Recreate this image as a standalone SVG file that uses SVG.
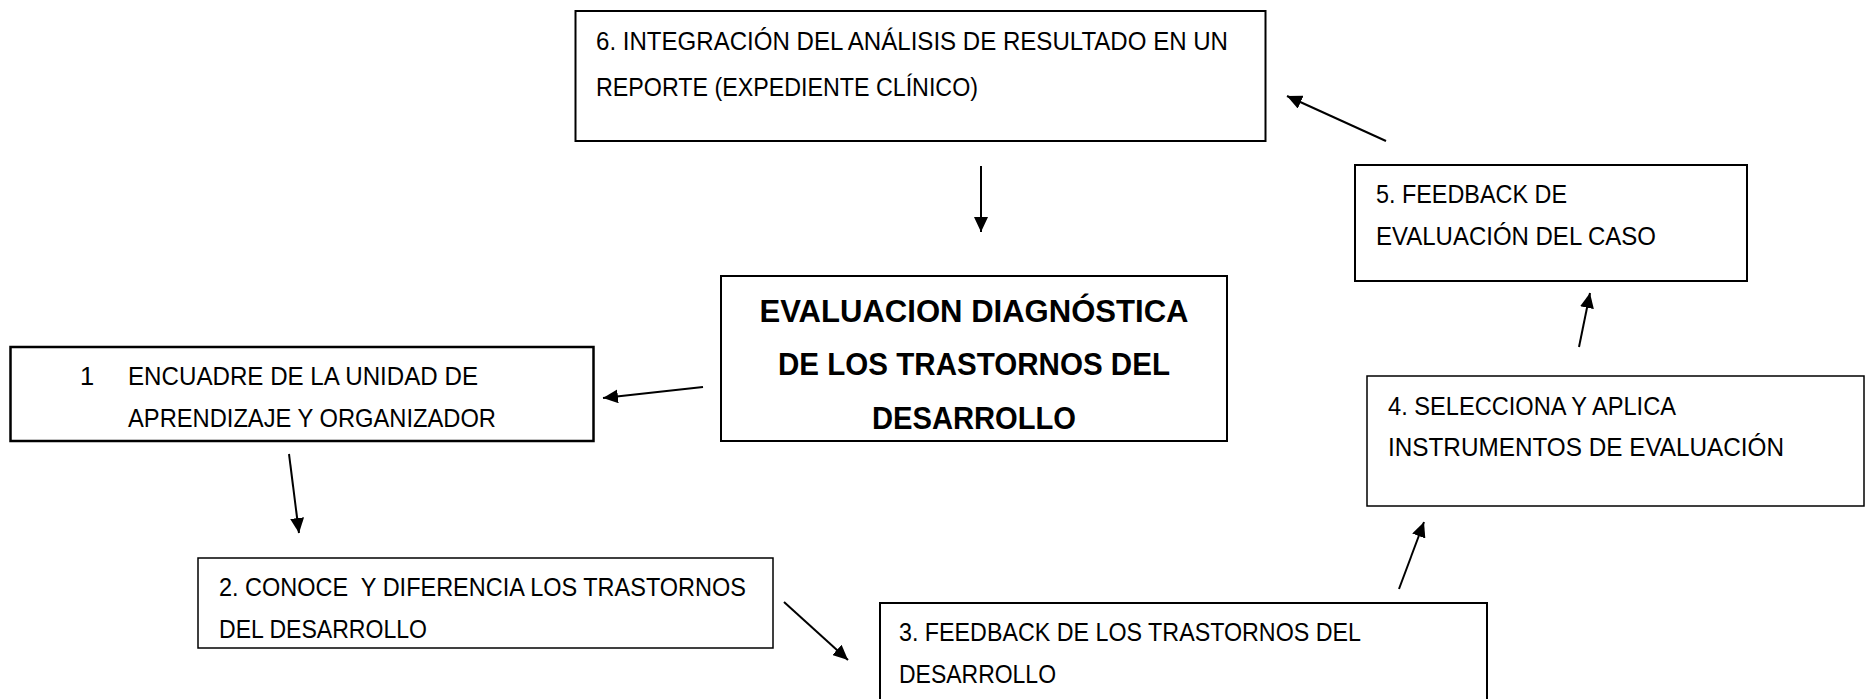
<svg xmlns="http://www.w3.org/2000/svg" width="1872" height="699" viewBox="0 0 1872 699">
<defs>
<style>
.box{fill:#fff;stroke:#000;stroke-width:2}
.t{font-family:"Liberation Sans",Arial,sans-serif;font-size:25.5px;fill:#000}
.b{font-family:"Liberation Sans",Arial,sans-serif;font-size:31px;font-weight:bold;fill:#000;text-anchor:middle}
.c{stroke:#000;stroke-width:2;fill:none;marker-end:url(#ah)}
</style>
<marker id="ah" markerUnits="userSpaceOnUse" markerWidth="16" markerHeight="14" refX="15" refY="7" orient="auto">
<path d="M0,0 L15,7 L0,14 z" fill="#000"/>
</marker>
</defs>
<rect width="1872" height="699" fill="#fff"/>
<g id="n6">
<rect class="box" x="575.5" y="11" width="690" height="130"/>
<text class="t" x="596" y="50" textLength="632" lengthAdjust="spacingAndGlyphs">6. INTEGRACIÓN DEL ANÁLISIS DE RESULTADO EN UN</text>
<text class="t" x="596" y="96" textLength="382" lengthAdjust="spacingAndGlyphs">REPORTE (EXPEDIENTE CLÍNICO)</text>
</g>
<g id="center">
<rect class="box" x="721" y="276" width="506" height="165"/>
<text class="b" x="974" y="322" textLength="429" lengthAdjust="spacingAndGlyphs">EVALUACION DIAGNÓSTICA</text>
<text class="b" x="974" y="375" textLength="392" lengthAdjust="spacingAndGlyphs">DE LOS TRASTORNOS DEL</text>
<text class="b" x="974" y="429" textLength="204" lengthAdjust="spacingAndGlyphs">DESARROLLO</text>
</g>
<g id="n1">
<rect class="box" x="10.5" y="347" width="583" height="94" style="stroke-width:2.5"/>
<text class="t" x="80" y="385"><tspan>1</tspan><tspan x="128" textLength="350" lengthAdjust="spacingAndGlyphs">ENCUADRE DE LA UNIDAD DE</tspan></text>
<text class="t" x="128" y="427" textLength="368" lengthAdjust="spacingAndGlyphs">APRENDIZAJE Y ORGANIZADOR</text>
</g>
<g id="n2">
<rect class="box" x="198" y="558" width="575" height="90" style="stroke-width:1.5"/>
<text class="t" x="219" y="596" textLength="527" lengthAdjust="spacingAndGlyphs" xml:space="preserve">2. CONOCE  Y DIFERENCIA LOS TRASTORNOS</text>
<text class="t" x="219" y="638" textLength="208" lengthAdjust="spacingAndGlyphs">DEL DESARROLLO</text>
</g>
<g id="n3">
<path class="box" d="M880,699 V603 H1487 V699" style="fill:#fff"/>
<text class="t" x="899" y="641" textLength="462" lengthAdjust="spacingAndGlyphs">3. FEEDBACK DE LOS TRASTORNOS DEL</text>
<text class="t" x="899" y="683" textLength="157" lengthAdjust="spacingAndGlyphs">DESARROLLO</text>
</g>
<g id="n4">
<rect class="box" x="1367" y="376" width="497" height="130" style="stroke-width:1.5"/>
<text class="t" x="1388" y="415" textLength="288" lengthAdjust="spacingAndGlyphs">4. SELECCIONA Y APLICA</text>
<text class="t" x="1388" y="456" textLength="396" lengthAdjust="spacingAndGlyphs">INSTRUMENTOS DE EVALUACIÓN</text>
</g>
<g id="n5">
<rect class="box" x="1355" y="165" width="392" height="116"/>
<text class="t" x="1376" y="203" textLength="191" lengthAdjust="spacingAndGlyphs">5. FEEDBACK DE</text>
<text class="t" x="1376" y="245" textLength="280" lengthAdjust="spacingAndGlyphs">EVALUACIÓN DEL CASO</text>
</g>
<g id="connectors">
<line class="c" x1="981" y1="166" x2="981" y2="232"/>
<line class="c" x1="703" y1="387" x2="603" y2="398"/>
<line class="c" x1="289" y1="454" x2="299" y2="533"/>
<line class="c" x1="784" y1="602" x2="848" y2="660"/>
<line class="c" x1="1399" y1="589" x2="1424" y2="522"/>
<line class="c" x1="1579" y1="347" x2="1590" y2="293"/>
<line class="c" x1="1386" y1="141" x2="1287" y2="96"/>
</g>
</svg>
